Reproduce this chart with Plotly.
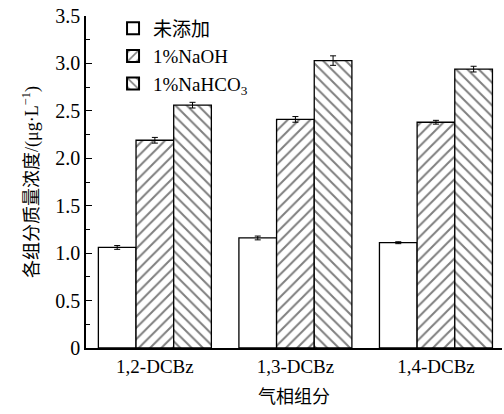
import plotly.graph_objects as go

categories = ["1,2-DCBz", "1,3-DCBz", "1,4-DCBz"]
series_names = ["未添加", "1%NaOH", "1%NaHCO<sub>3</sub>"]
v_none = [1.06, 1.16, 1.11]
e_none = [0.02, 0.02, 0.01]
v_naoh = [2.19, 2.41, 2.38]
e_naoh = [0.03, 0.03, 0.02]
v_nahco3 = [2.56, 3.03, 2.94]
e_nahco3 = [0.03, 0.05, 0.03]
ytick_vals = [0, 0.5, 1.0, 1.5, 2.0, 2.5, 3.0, 3.5]
ytick_text = ["0", "0.5", "1.0", "1.5", "2.0", "2.5", "3.0", "3.5"]

font_main = "Liberation Serif, Times New Roman, Noto Sans CJK SC, serif"

fig = go.Figure()
patterns = ["", "/", "\\"]
vals = [v_none, v_naoh, v_nahco3]
errs = [e_none, e_naoh, e_nahco3]
for name, v, e, p in zip(series_names, vals, errs, patterns):
    fig.add_trace(go.Bar(
        x=list(range(len(categories))), y=v, name=name,
        marker=dict(color="white", line=dict(color="black", width=1.3),
                    pattern=dict(shape=p, size=8, solidity=0.25,
                                 fgcolor="black", bgcolor="white")),
        error_y=dict(type="data", array=e, color="black", thickness=1, width=3),
    ))

fig.update_layout(
    width=504, height=414,
    margin=dict(l=86, r=2, t=16, b=66),
    paper_bgcolor="white", plot_bgcolor="white",
    barmode="group", bargap=0.196, bargroupgap=0,
    font=dict(family=font_main, size=19, color="black"),
    showlegend=True,
    legend=dict(x=0.065, y=1.02, xanchor="left", yanchor="top",
                bgcolor="rgba(0,0,0,0)", font=dict(size=19),
                tracegroupgap=3, itemsizing="constant", itemwidth=30),
    xaxis=dict(
        range=[-0.49, 2.47], tickvals=[0, 1, 2], ticktext=categories,
        showline=True, linecolor="black", linewidth=1.5, ticks="",
        showgrid=False, zeroline=False,
        title=dict(text="气相组分", font=dict(size=18), standoff=15),
        tickfont=dict(size=19),
    ),
    yaxis=dict(
        range=[0, 3.5], tickvals=ytick_vals, ticktext=ytick_text,
        showline=True, linecolor="black", linewidth=1.5,
        ticks="inside", ticklen=6, tickwidth=1.2, tickcolor="black",
        minor=dict(ticks="inside", ticklen=4, dtick=0.25, tickcolor="black", tickwidth=1),
        showgrid=False, zeroline=False,
        title=dict(text="各组分质量浓度/(μg·L<sup>−1</sup>)", font=dict(size=18), standoff=12),
        tickfont=dict(size=20),
    ),
)

fig.write_html("out.html")
